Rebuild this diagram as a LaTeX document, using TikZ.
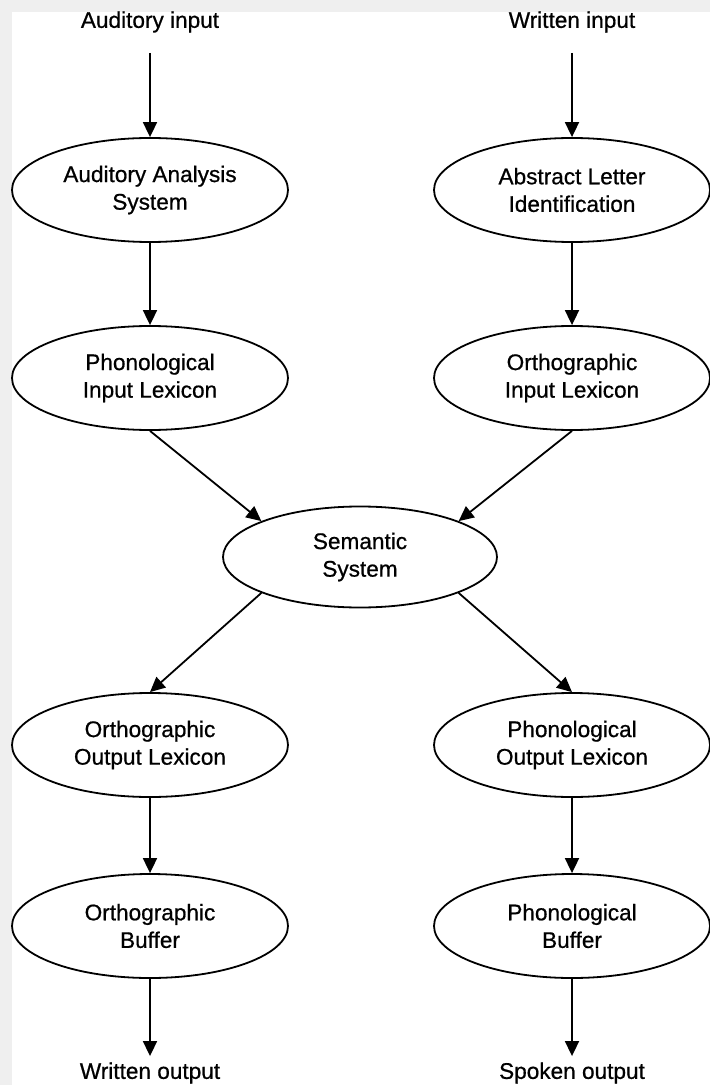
\documentclass[tikz,border=0pt]{standalone}
\usepackage{fontspec}
\setmainfont{Liberation Sans}
\newfontfamily\diagfont{Liberation Sans}[FakeBold=0.7]
\usetikzlibrary{shapes.geometric,arrows.meta}
\definecolor{bggray}{HTML}{EFEFEF}
\begin{document}
\begin{tikzpicture}[x=0.5pt,y=-0.5pt,
  box/.style={ellipse,draw,line width=0.9pt,minimum width=138pt,minimum height=52pt,inner sep=0pt,align=center,font=\diagfont\fontsize{11.3pt}{14.3pt}\selectfont},
  lbl/.style={inner sep=0pt,font=\diagfont\fontsize{11.3pt}{14pt}\selectfont},
  arr/.style={line width=0.9pt,-{Triangle[length=7.5pt,width=7pt]}}]
\fill[bggray] (0,0) rectangle (710,1085);
\fill[white] (12,12) rectangle (710,1085);
\useasboundingbox (0,0) rectangle (710,1085);
\node[lbl] (ain) at (150,22) {Auditory input};
\node[lbl] (win) at (572,22) {Written input};
\node[box] (aas) at (150,190) {Auditory Analysis\\[-0.5pt]System};
\node[box] (ali) at (572,190) {Abstract Letter\\[-0.5pt]Identification};
\node[box] (pil) at (150,378) {Phonological\\[-0.5pt]Input Lexicon};
\node[box] (oil) at (572,378) {Orthographic\\[-0.5pt]Input Lexicon};
\node[box,minimum width=137pt,minimum height=50.5pt] (sem) at (360,557) {Semantic\\[-0.5pt]System};
\node[box] (ool) at (150,745) {Orthographic\\[-0.5pt]Output Lexicon};
\node[box] (pol) at (572,745) {Phonological\\[-0.5pt]Output Lexicon};
\node[box] (ob) at (150,926) {Orthographic\\[-0.5pt]Buffer};
\node[box] (pb) at (572,926) {Phonological\\[-0.5pt]Buffer};
\node[lbl] (wout) at (150,1073) {Written output};
\node[lbl] (sout) at (572,1073) {Spoken output};
\draw[arr,shorten <=10pt] (ain.south) -- (aas.north);
\draw[arr,shorten <=10pt] (win.south) -- (ali.north);
\draw[arr] (aas.south) -- (pil.north);
\draw[arr] (ali.south) -- (oil.north);
\draw[arr] (pil.south) -- (sem.160);
\draw[arr] (oil.south) -- (sem.20);
\draw[arr] (sem.200) -- (ool.north);
\draw[arr] (sem.-20) -- (pol.north);
\draw[arr] (ool.south) -- (ob.north);
\draw[arr] (pol.south) -- (pb.north);
\draw[arr,shorten >=3pt] (ob.south) -- (wout.north);
\draw[arr,shorten >=3pt] (pb.south) -- (sout.north);
\end{tikzpicture}
\end{document}
